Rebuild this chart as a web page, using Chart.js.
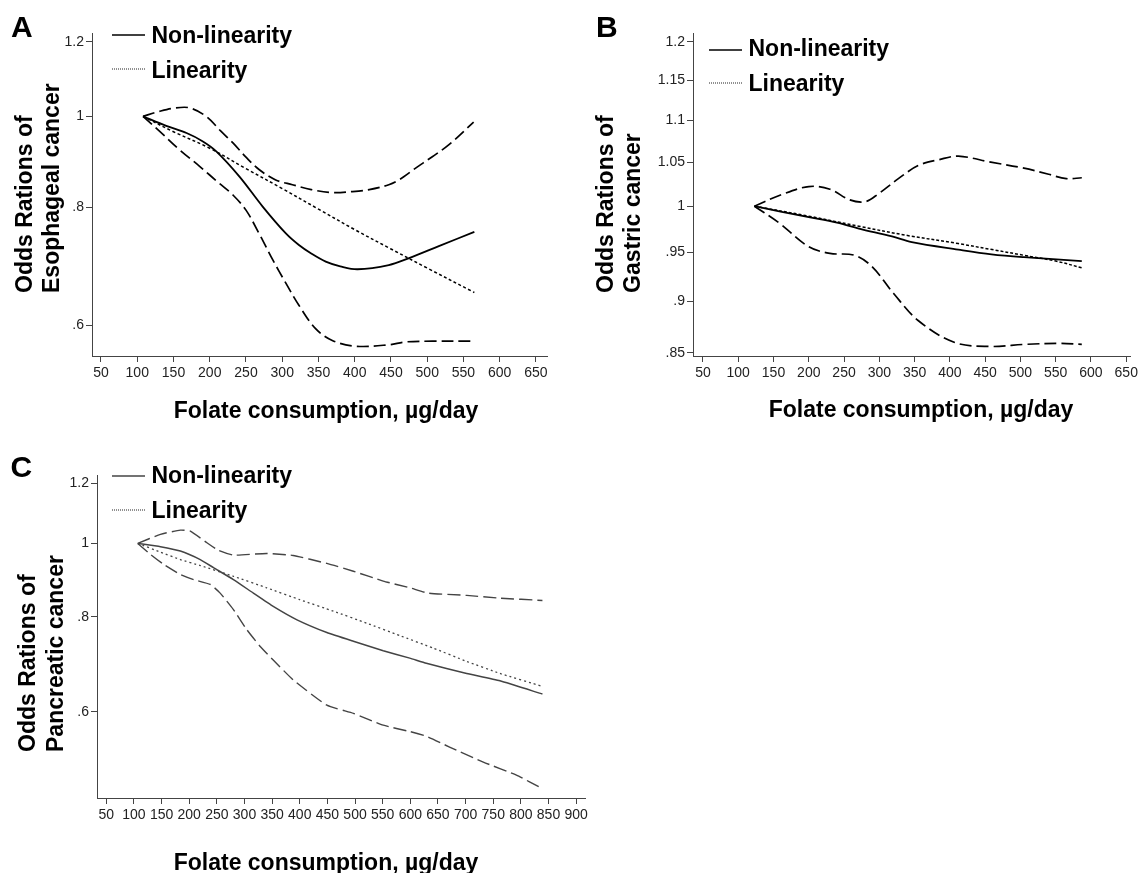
<!DOCTYPE html>
<html><head><meta charset="utf-8">
<script src="https://cdn.jsdelivr.net/npm/chart.js@4.4.1/dist/chart.umd.min.js"></script>
<style>
html,body{margin:0;padding:0;background:#fff;}
#wrap{position:relative;width:1141px;height:873px;overflow:hidden;background:#fff;}
canvas{position:absolute;left:0;top:0;}
</style></head><body>
<div id="wrap">
<canvas id="cA" width="1141" height="873"></canvas>
<canvas id="cB" width="1141" height="873"></canvas>
<canvas id="cC" width="1141" height="873"></canvas>
</div>
<script>
// ---------- Panel A: Esophageal cancer ----------
const xTicksA = [50,100,150,200,250,300,350,400,450,500,550,600,650];
const xTickLabelsA = ['50','100','150','200','250','300','350','400','450','500','550','600','650'];
const yTicksA = [0.6,0.8,1,1.2];
const yTickLabelsA = ['.6','.8','1','1.2'];
const nonlinXA = [108,140,168,190,209,241,273,305,323,340,360,380,404,447,475,516,565];
const nonlinYA = [1.0,0.977,0.960,0.941,0.918,0.863,0.802,0.751,0.730,0.715,0.701,0.693,0.688,0.695,0.707,0.728,0.754];
const linXA = [108,150,200,250,300,350,400,450,500,565];
const linYA = [1.0,0.963,0.925,0.880,0.838,0.797,0.758,0.723,0.690,0.650];
const upXA = [108,130,150,172,195,215,232,250,268,291,314,340,369,397,420,447,461,484,507,530,564];
const upYA = [1.0,1.012,1.020,1.021,1.0,0.965,0.937,0.905,0.878,0.856,0.846,0.836,0.830,0.832,0.836,0.846,0.856,0.881,0.906,0.933,0.986];
const loXA = [108,131,158,186,213,232,250,268,287,305,323,346,369,401,447,470,507,564];
const loYA = [1.0,0.964,0.922,0.885,0.849,0.825,0.795,0.751,0.704,0.665,0.630,0.595,0.578,0.570,0.572,0.576,0.577,0.577];

// ---------- Panel B: Gastric cancer ----------
const xTicksB = [50,100,150,200,250,300,350,400,450,500,550,600,650];
const xTickLabelsB = ['50','100','150','200','250','300','350','400','450','500','550','600','650'];
const yTicksB = [0.85,0.9,0.95,1,1.05,1.1,1.15,1.2];
const yTickLabelsB = ['.85','.9','.95','1','1.05','1.1','1.15','1.2'];
const nonlinXB = [123,160,200,240,271,318,346,412,459,505,587];
const nonlinYB = [1.0,0.994,0.988,0.982,0.9755,0.967,0.961,0.953,0.948,0.945,0.941];
const linXB = [123,200,271,340,412,460,505,550,587];
const linYB = [1.0,0.989,0.978,0.968,0.9594,0.953,0.947,0.941,0.934];
const upXB = [123,160,200,230,258,280,299,327,355,385,412,458,505,540,565,587];
const upYB = [1.0,1.0125,1.022,1.019,1.007,1.005,1.014,1.031,1.046,1.053,1.057,1.050,1.043,1.036,1.031,1.032];
const loXB = [123,159,200,230,265,290,320,355,406,456,507,557,587];
const loYB = [1.0,0.981,0.956,0.949,0.947,0.935,0.908,0.881,0.860,0.856,0.858,0.859,0.858];

// ---------- Panel C: Pancreatic cancer ----------
const xTicksC = [50,100,150,200,250,300,350,400,450,500,550,600,650,700,750,800,850,900];
const xTickLabelsC = ['50','100','150','200','250','300','350','400','450','500','550','600','650','700','750','800','850','900'];
const yTicksC = [0.6,0.8,1,1.2];
const yTickLabelsC = ['.6','.8','1','1.2'];
const nonlinXC = [107,148,184,220,244,280,316,352,395,449,497,551,599,629,702,762,839];
const nonlinYC = [1.0,0.990,0.977,0.952,0.929,0.896,0.860,0.826,0.793,0.763,0.743,0.722,0.706,0.695,0.674,0.659,0.633];
const linXC = [107,148,184,220,280,340,400,461,521,581,641,702,762,839];
const linYC = [1.0,0.974,0.952,0.935,0.905,0.874,0.843,0.814,0.785,0.756,0.728,0.699,0.674,0.648];
const upXC = [107,148,184,202,232,252,280,340,388,449,497,551,599,632,702,762,839];
const upYC = [1.0,1.028,1.041,1.038,1.002,0.980,0.965,0.970,0.964,0.941,0.919,0.892,0.874,0.860,0.854,0.847,0.841];
const loXC = [107,130,154,184,208,238,256,280,304,328,352,388,449,497,551,599,629,671,732,792,839];
const loYC = [1.0,0.967,0.938,0.910,0.896,0.883,0.860,0.818,0.770,0.732,0.702,0.661,0.612,0.597,0.576,0.565,0.557,0.539,0.515,0.495,0.475];

const legendLabels = ['Non-linearity','Linearity'];
const xTitle = 'Folate consumption, \u00b5g/day';

// ---------- drawing ----------
const FAM = "'Liberation Sans', Arial, Helvetica, sans-serif";
const W = 1141, H = 873;
function pts(xs, ys){ return xs.map((x,i)=>({x:x, y:ys[i]})); }

function makePanel(id, p){
  const textPlugin = {
    id: 'txt' + id,
    afterDraw(chart){
      const c = chart.ctx;
      c.save();
      c.fillStyle = '#000';
      c.font = 'bold 30px ' + FAM;
      c.textAlign = 'left'; c.textBaseline = 'alphabetic';
      c.fillText(p.letter, p.letterPos[0], p.letterPos[1]);
      const L = p.legend;
      c.strokeStyle = p.color; c.lineWidth = 1.6; c.setLineDash([]);
      c.beginPath(); c.moveTo(L.x0, L.y1); c.lineTo(L.x1, L.y1); c.stroke();
      c.lineWidth = 1; c.setLineDash([1,1]); c.strokeStyle = '#222';
      c.beginPath(); c.moveTo(L.x0, L.y2); c.lineTo(L.x1, L.y2); c.stroke();
      c.setLineDash([]);
      c.font = 'bold 23px ' + FAM;
      c.fillStyle = '#000';
      c.fillText(legendLabels[0], L.tx, L.b1);
      c.fillText(legendLabels[1], L.tx, L.b2);
      c.textAlign = 'center';
      c.fillText(xTitle, p.xTitle[0], p.xTitle[1]);
      c.textAlign = 'left';
      for (let i = 0; i < p.yTitle.lines.length; i++){
        c.save();
        c.translate(p.yTitle.xs[i], p.yTitle.y0);
        c.rotate(-Math.PI/2);
        c.fillText(p.yTitle.lines[i], 0, 0);
        c.restore();
      }
      c.restore();
    }
  };
  const tickFont = {family: FAM, size: 14};
  const gridCfg = {display:true, drawOnChartArea:false, drawTicks:true, tickLength:6, color:'#444', lineWidth:1};
  const borderCfg = {display:true, color:'#444', width:1};
  new Chart(document.getElementById(id), {
    type: 'scatter',
    data: {datasets: p.sets.map(s => ({
      data: pts(s.x, s.y), showLine: true, borderColor: s.color, borderWidth: s.w,
      borderDash: s.dash, pointRadius: 0, pointHoverRadius: 0, fill: false,
      cubicInterpolationMode: 'default', tension: p.tension
    }))},
    options: {
      responsive: false, animation: false, devicePixelRatio: 1,
      layout: {padding: {left: 0, top: p.area.t, right: W - p.area.r, bottom: 0}},
      plugins: {legend: {display: false}, tooltip: {enabled: false}},
      events: [],
      scales: {
        x: {
          type: 'linear', min: p.xmin, max: p.xmax, bounds: 'data',
          afterBuildTicks: s => { s.ticks = p.xTicks.map(v => ({value: v})); },
          afterFit: s => { s.height = H - p.area.b; },
          ticks: {autoSkip: false, maxRotation: 0, minRotation: 0, padding: 3, color: '#222', font: tickFont,
                  callback: (v, i) => p.xLabels[i]},
          grid: gridCfg, border: borderCfg
        },
        y: {
          type: 'logarithmic', min: p.ymin, max: p.ymax, bounds: 'data',
          afterBuildTicks: s => { s.ticks = p.yTicks.map(v => ({value: v})); },
          afterFit: s => { s.width = p.area.l; },
          ticks: {autoSkip: false, padding: 2, color: '#222', font: tickFont,
                  callback: (v, i) => p.yLabels[i]},
          grid: gridCfg, border: borderCfg
        }
      }
    },
    plugins: [textPlugin]
  });
}

const K = '#000', G = '#444';
makePanel('cA', {
  area: {l: 92, t: 33, r: 547, b: 356},
  xmin: 37.6, xmax: 665.2, ymin: 0.5565, ymax: 1.226,
  xTicks: xTicksA, xLabels: xTickLabelsA, yTicks: yTicksA, yLabels: yTickLabelsA,
  tension: 0.35, color: K,
  sets: [
    {x: upXA, y: upYA, color: K, w: 1.7, dash: [12,5]},
    {x: loXA, y: loYA, color: K, w: 1.7, dash: [12,5]},
    {x: linXA, y: linYA, color: K, w: 1.5, dash: [3,2.5]},
    {x: nonlinXA, y: nonlinYA, color: K, w: 1.8, dash: []}
  ],
  letter: 'A', letterPos: [11, 37],
  legend: {x0: 112, x1: 145, y1: 35, y2: 69, tx: 151.5, b1: 43, b2: 78},
  xTitle: [326, 418],
  yTitle: {lines: ['Odds Rations of', 'Esophageal cancer'], xs: [32, 59], y0: 293}
});
makePanel('cB', {
  area: {l: 693, t: 33, r: 1134, b: 356},
  xmin: 35.9, xmax: 656.6, ymin: 0.847, ymax: 1.2116,
  xTicks: xTicksB, xLabels: xTickLabelsB, yTicks: yTicksB, yLabels: yTickLabelsB,
  tension: 0.35, color: K,
  sets: [
    {x: upXB, y: upYB, color: K, w: 1.7, dash: [12,5]},
    {x: loXB, y: loYB, color: K, w: 1.7, dash: [12,5]},
    {x: linXB, y: linYB, color: K, w: 1.5, dash: [3,2]},
    {x: nonlinXB, y: nonlinYB, color: K, w: 1.8, dash: []}
  ],
  letter: 'B', letterPos: [596, 37],
  legend: {x0: 709, x1: 742, y1: 50, y2: 83, tx: 748.5, b1: 56, b2: 91},
  xTitle: [921, 417],
  yTitle: {lines: ['Odds Rations of', 'Gastric cancer'], xs: [613, 640], y0: 293}
});
makePanel('cC', {
  area: {l: 97, t: 475, r: 585, b: 798},
  xmin: 33.2, xmax: 916, ymin: 0.4618, ymax: 1.2307,
  xTicks: xTicksC, xLabels: xTickLabelsC, yTicks: yTicksC, yLabels: yTickLabelsC,
  tension: 0.15, color: G,
  sets: [
    {x: upXC, y: upYC, color: G, w: 1.4, dash: [13,5]},
    {x: loXC, y: loYC, color: G, w: 1.4, dash: [13,5]},
    {x: linXC, y: linYC, color: G, w: 1.3, dash: [2,3]},
    {x: nonlinXC, y: nonlinYC, color: G, w: 1.5, dash: []}
  ],
  letter: 'C', letterPos: [10.5, 477],
  legend: {x0: 112, x1: 145, y1: 476, y2: 510, tx: 151.5, b1: 483, b2: 518},
  xTitle: [326, 870],
  yTitle: {lines: ['Odds Rations of', 'Pancreatic cancer'], xs: [35, 63], y0: 752}
});
</script>
</body></html>
